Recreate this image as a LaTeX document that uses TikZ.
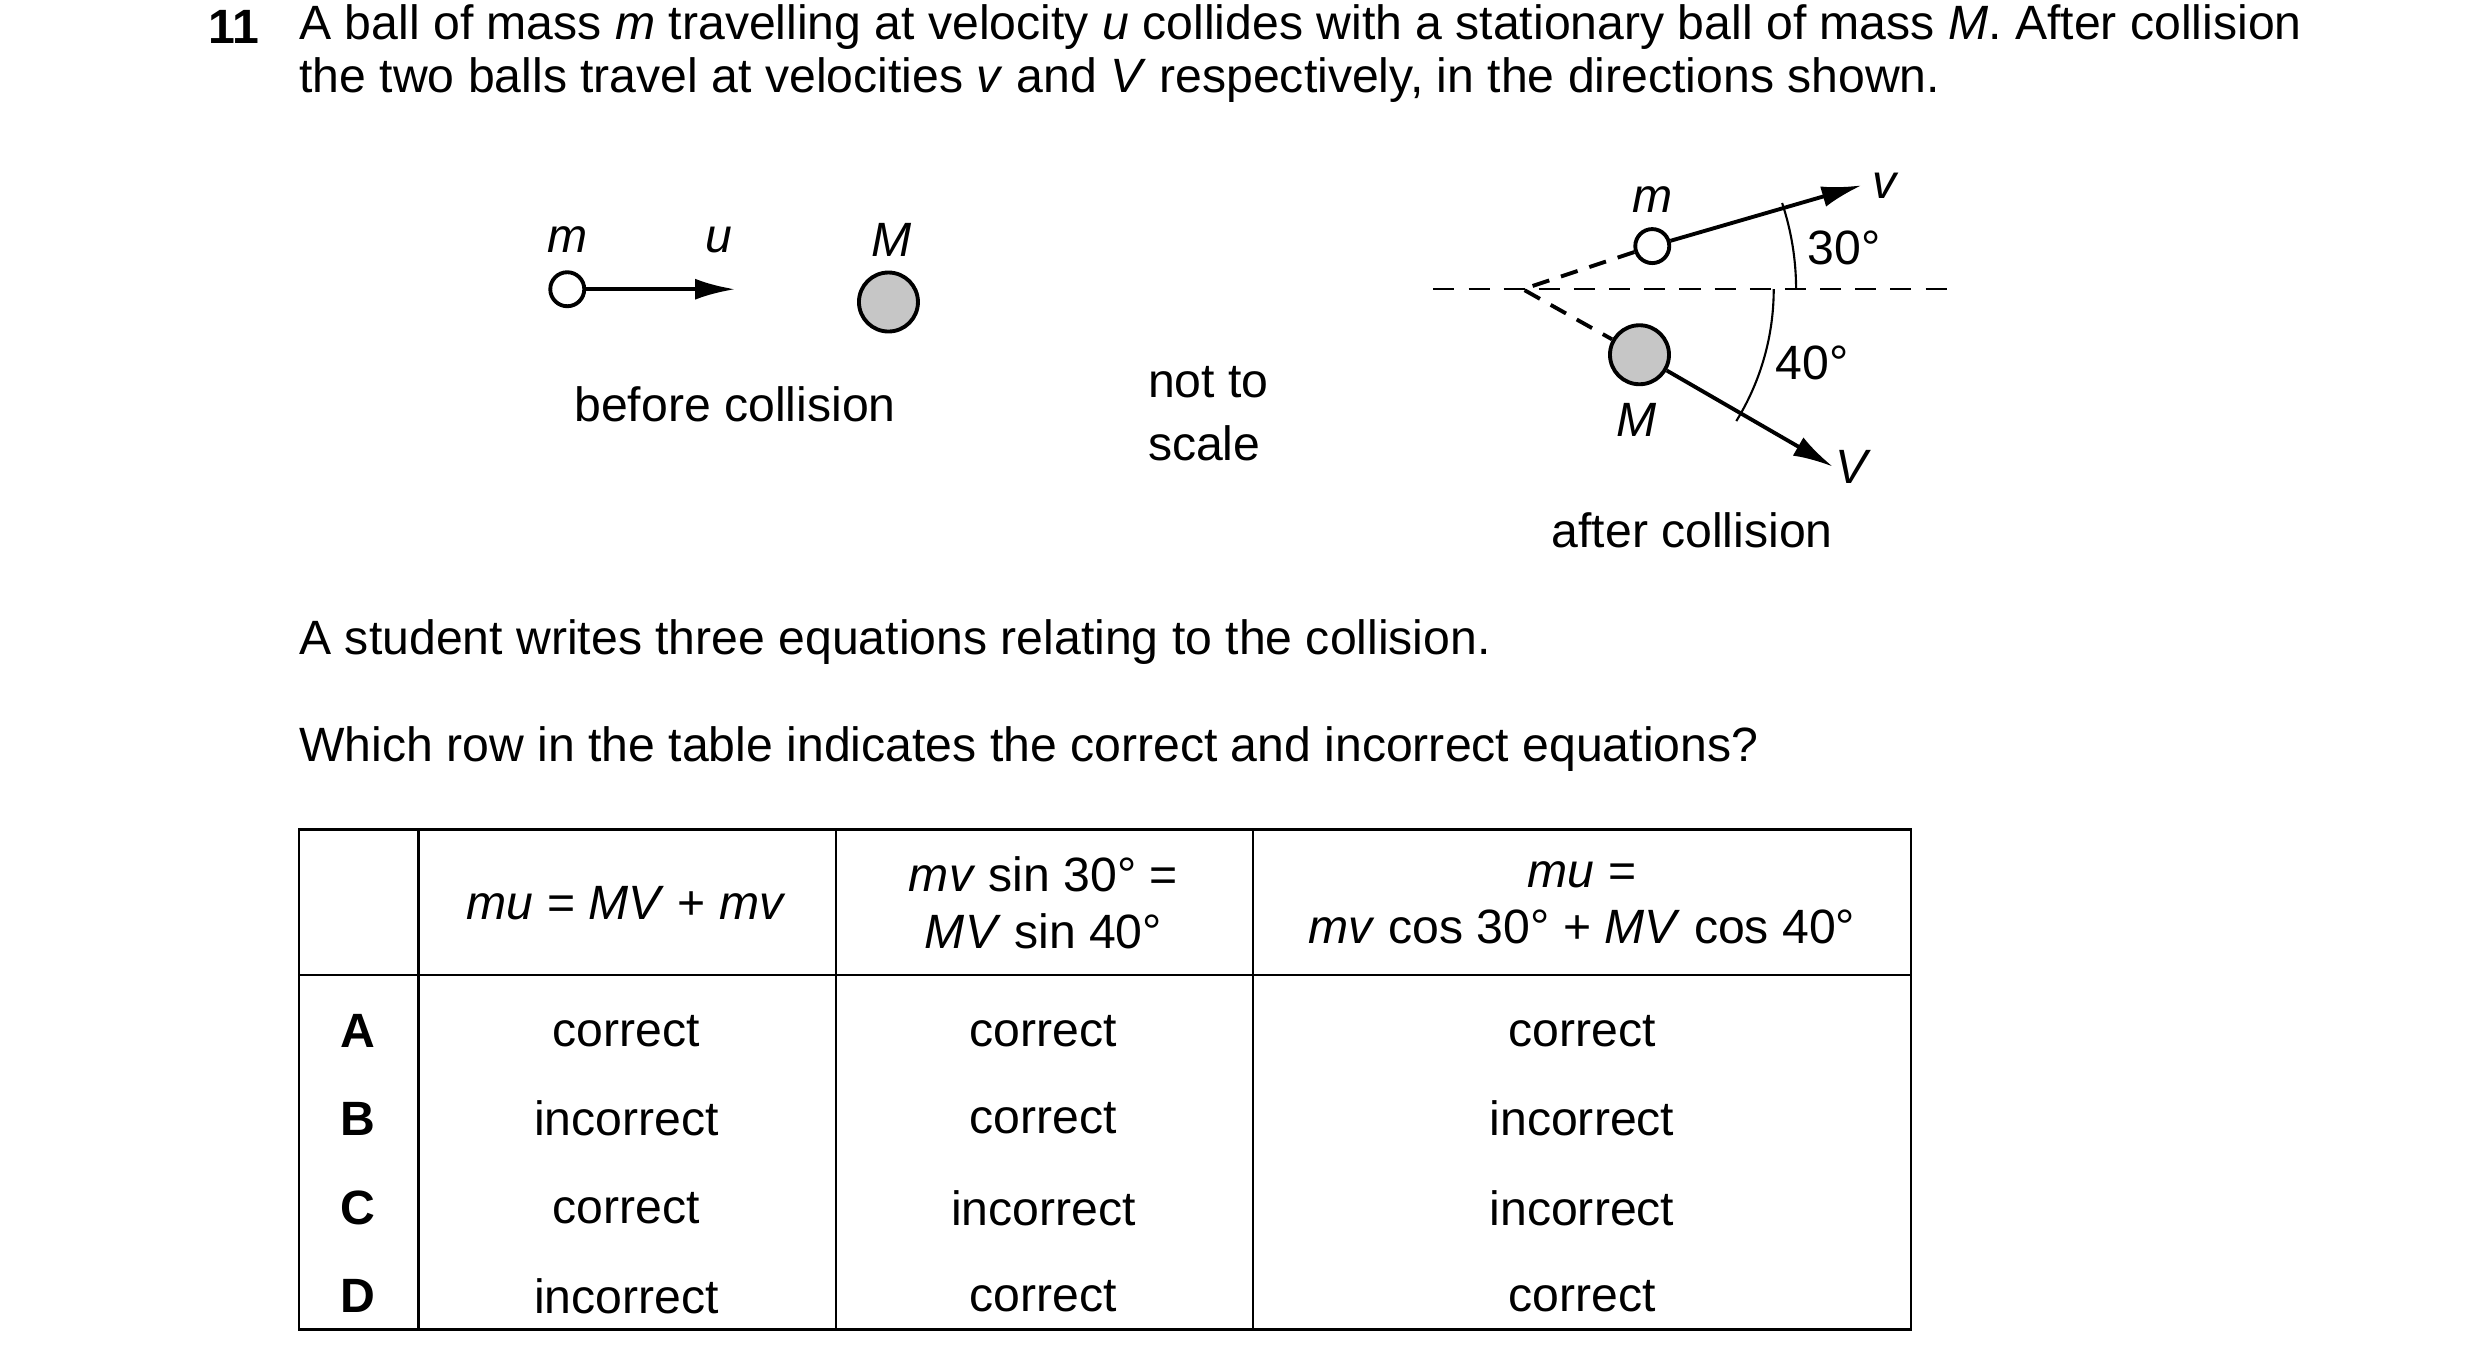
\documentclass[tikz,border=0pt]{standalone}
\usepackage{fontspec}
\setmainfont{Liberation Sans}
\usetikzlibrary{arrows.meta, positioning}
\tikzstyle{arrow} = [line width=1.1pt,-{Latex[length=4mm,width=2.1mm]}]
\tikzstyle{ballsmall} = [circle, draw=black, line width=1.1pt, fill=white, minimum size=3.4mm, inner sep=0pt]
\tikzstyle{ballbig} = [circle, draw=black, line width=1.1pt, fill=gray!45, minimum size=5.9mm, inner sep=0pt]
\tikzstyle{lbl} = [inner sep=0pt]
\tikzstyle{cell} = [inner sep=0pt, align=center]
\newcommand\iv[1]{\textit{#1}}
\begin{document}
\begin{tikzpicture}[x=0.01598cm, y=0.01598cm, font=\fontsize{13.7}{16}\selectfont]
\useasboundingbox (0,0) rectangle (1552,-849);
% Question text
\node (num) [lbl, anchor=west] at (130,-17) {\textbf{11}};
\node (line1) [lbl, anchor=west] at (187,-17) {A ball of mass \iv{m} travelling at velocity \iv{u} collides with a stationary ball of mass \iv{M}. After collision};
\node (line2) [lbl, anchor=west] at (187,-50) {the two balls travel at velocities \iv{v} and \iv{V} respectively, in the directions shown.};

% Before collision
\node (m1) [ballsmall] at (355,-181) {};
\node (M1) [ballbig] at (556,-189) {};
\coordinate (utip) at (460,-181);
\draw [arrow] (m1) -- (utip);
\node (m1lbl) [lbl] at (355,-150) {\iv{m}};
\node (ulbl) [lbl] at (450,-150) {\iv{u}};
\node (M1lbl) [lbl] at (558,-150) {\iv{M}};
\node (before) [lbl] at (460,-253) {before collision};
\node (scale) [lbl, anchor=west, align=left] at (718,-259) {not to\\[2pt]scale};

% After collision
\coordinate (apex) at (953,-181);
\draw [dashed, line width=0.6pt, dash pattern=on 6pt off 4pt] (897,-181) -- (1222,-181);
\node (m2) [ballsmall] at (1034,-154) {};
\node (M2) [ballbig] at (1026,-222) {};
\draw [dashed, line width=1.1pt, dash pattern=on 5pt off 3.5pt] (m2) -- (apex) -- (M2);
\coordinate (vtip) at (1165,-116);
\coordinate (Vtip) at (1147,-292);
\draw [arrow] (m2) -- (vtip);
\draw [arrow] (M2) -- (Vtip);
\draw [line width=0.6pt] ([shift={(0:171)}]apex) arc (0:18.4:171);
\draw [line width=0.6pt] ([shift={(0:157)}]apex) arc (0:-31.7:157);
\node (m2lbl) [lbl] at (1034,-125) {\iv{m}};
\node (vlbl) [lbl] at (1180,-116) {\iv{v}};
\node (ang30) [lbl] at (1154,-155) {30°};
\node (ang40) [lbl] at (1134,-227) {40°};
\node (M2lbl) [lbl] at (1024,-263) {\iv{M}};
\node (Vlbl) [lbl] at (1160,-292) {\iv{V}};
\node (after) [lbl] at (1059,-332) {after collision};

% Middle text
\node (student) [lbl, anchor=west] at (187,-402) {A student writes three equations relating to the collision.};
\node (which) [lbl, anchor=west] at (187,-469) {Which row in the table indicates the correct and incorrect equations?};

% Table
\draw [line width=0.7pt] (187,-519) rectangle (1196,-832);
\draw [line width=0.7pt] (187,-610) -- (1196,-610);
\foreach \x in {262,523,784} \draw [line width=0.7pt] (\x,-519) -- (\x,-832);
\node (h1) [cell] at (392,-565) {\iv{mu} = \iv{MV} + \iv{mv}};
\node (h2) [cell] at (653,-565) {\iv{mv} sin 30° =\\\iv{MV} sin 40°};
\node (h3) [cell] at (990,-565) {\iv{mu} =\\\iv{mv} cos 30° + \iv{MV} cos 40°};
\foreach \r/\y/\a/\b/\c in {A/645/correct/correct/correct, B/700/incorrect/correct/incorrect, C/756/correct/incorrect/incorrect, D/811/incorrect/correct/correct}{
  \node (row\r) [cell] at (224,-\y) {\textbf{\r}};
  \node (a\r) [cell] at (392,-\y) {\a};
  \node (b\r) [cell] at (653,-\y) {\b};
  \node (c\r) [cell] at (990,-\y) {\c};
}
\end{tikzpicture}
\end{document}
